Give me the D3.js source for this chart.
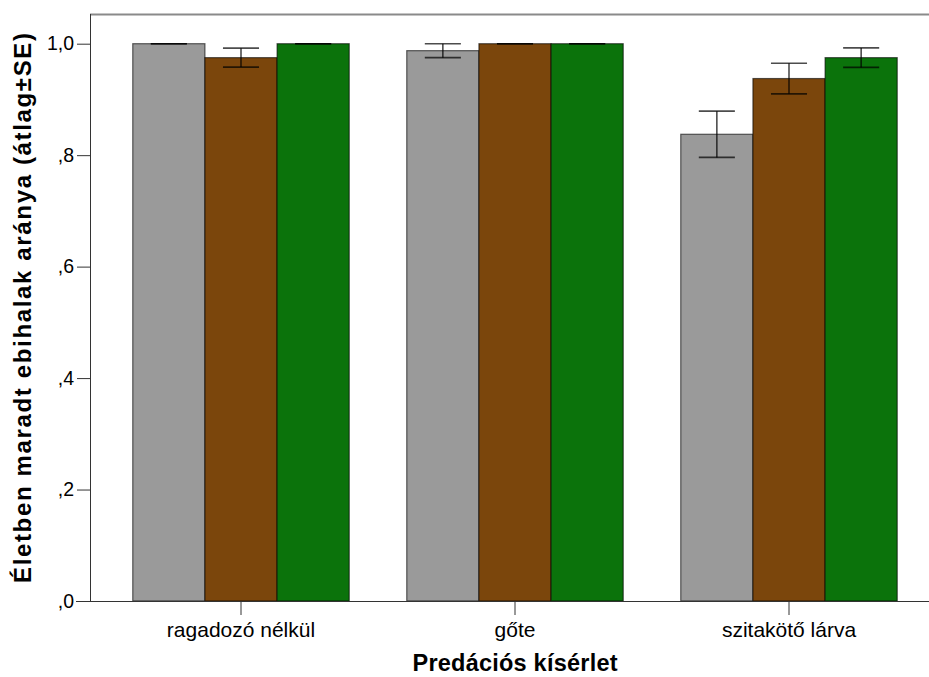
<!DOCTYPE html>
<html>
<head>
<meta charset="utf-8">
<script src="https://cdn.jsdelivr.net/npm/d3@7"></script>
<style>
  body { margin: 0; background: #fff; }
  text { font-family: "Liberation Sans", Arial, sans-serif; fill: #000; }
</style>
</head>
<body>
<svg id="chart" width="929" height="677"></svg>
<script>
var categories = ["ragadozó nélkül", "gőte", "szitakötő lárva"];
var series = ["s1", "s2", "s3"];
var colors = ["#9a9a9a", "#7b460c", "#0b730b"];
// means per category, one array per series
var means = [
    [1.0, 0.9875, 0.8375],
    [0.975, 1.0, 0.9375],
    [1.0, 1.0, 0.975]
];
var errs = [
    [0, 0.0125, 0.0415],
    [0.017, 0, 0.0275],
    [0, 0, 0.0175]
];
var yTicks = [0, 0.2, 0.4, 0.6, 0.8, 1.0];

var svg = d3.select("#chart");

var x0 = d3.scaleBand()
    .domain(categories)
    .range([104, 926])
    .paddingInner(0.21)
    .paddingOuter(0.105);

var x1 = d3.scaleBand()
    .domain(series)
    .range([0, x0.bandwidth()]);

var y = d3.scaleLinear()
    .domain([0, 1])
    .range([601, 43.7]);

var fmt = function (d) {
    var s = d3.format(".1f")(d).replace(".", ",");
    return s.charAt(0) === "0" ? s.slice(1) : s;
};

// top frame line
svg.append("line")
    .attr("x1", 90).attr("x2", 929)
    .attr("y1", 14.5).attr("y2", 14.5)
    .attr("stroke", "#8a8a8a")
    .attr("stroke-width", 2);

var rows = [];
series.forEach(function (s, i) {
    categories.forEach(function (c, j) {
        rows.push({ cat: c, ser: s, i: i, v: means[i][j], e: errs[i][j] });
    });
});

svg.append("g").selectAll("rect")
    .data(rows)
    .enter().append("rect")
    .attr("x", function (d) { return x0(d.cat) + x1(d.ser); })
    .attr("y", function (d) { return y(d.v); })
    .attr("width", x1.bandwidth())
    .attr("height", function (d) { return y(0) - y(d.v); })
    .attr("fill", function (d) { return colors[d.i]; })
    .attr("stroke", "#000")
    .attr("stroke-opacity", 0.6)
    .attr("stroke-width", 1.2);

// error bars (mean +/- SE, upper end capped at 1)
var eb = svg.append("g")
    .attr("stroke", "#000")
    .attr("stroke-opacity", 0.7)
    .attr("stroke-width", 1.6);

rows.forEach(function (d) {
    var cx = x0(d.cat) + x1(d.ser) + x1.bandwidth() / 2;
    var cap = x1.bandwidth() / 4;
    var top = y(Math.min(d.v + d.e, 1));
    var bot = y(d.v - d.e);
    eb.append("line").attr("x1", cx).attr("x2", cx).attr("y1", top).attr("y2", bot);
    eb.append("line").attr("x1", cx - cap).attr("x2", cx + cap).attr("y1", top).attr("y2", top);
    eb.append("line").attr("x1", cx - cap).attr("x2", cx + cap).attr("y1", bot).attr("y2", bot);
});

// y axis
var yAxis = svg.append("g")
    .attr("transform", "translate(90,0)")
    .call(d3.axisLeft(y).tickValues(yTicks).tickFormat(fmt).tickSize(13).tickPadding(3));
yAxis.select(".domain").attr("stroke", "#333").attr("d", "M0.5,601V14");
yAxis.selectAll(".tick line").attr("stroke", "#333");
yAxis.selectAll(".tick text").style("font-size", "19.5px").attr("fill", "#000");

// x axis
var xAxis = svg.append("g")
    .attr("transform", "translate(0,601)")
    .call(d3.axisBottom(x0).tickSize(14).tickPadding(7));
xAxis.select(".domain").attr("stroke", "#333").attr("d", "M76,0.5H929");
xAxis.selectAll(".tick line").attr("stroke", "#333");
xAxis.selectAll(".tick text").style("font-size", "21px").attr("fill", "#000");

// axis titles
svg.append("text")
    .attr("x", 515)
    .attr("y", 671)
    .attr("text-anchor", "middle")
    .attr("textLength", 205)
    .attr("lengthAdjust", "spacing")
    .style("font-size", "23.5px")
    .style("font-weight", "bold")
    .text("Predációs kísérlet");

svg.append("text")
    .attr("transform", "translate(31,308) rotate(-90)")
    .attr("text-anchor", "middle")
    .attr("textLength", 550)
    .attr("lengthAdjust", "spacing")
    .style("font-size", "24px")
    .style("font-weight", "bold")
    .text("Életben maradt ebihalak aránya (átlag±SE)");
</script>
</body>
</html>
